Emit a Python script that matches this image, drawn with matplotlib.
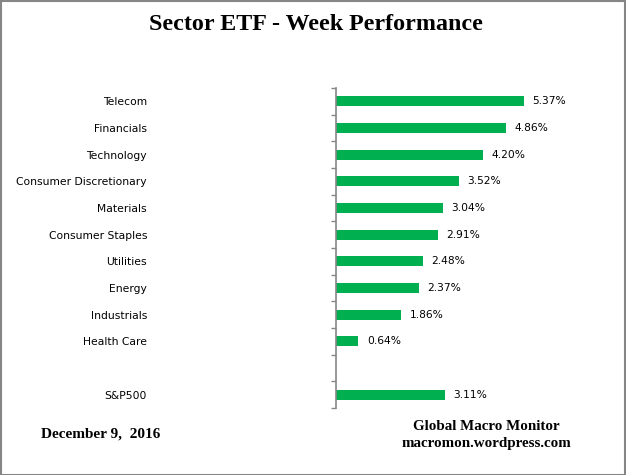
import numpy as np
import matplotlib
matplotlib.use("Agg")
from matplotlib import pyplot as plt
from matplotlib.patches import Rectangle

# Weekly performance, %
sectors = ["Telecom", "Financials", "Technology", "Consumer Discretionary", "Materials",
           "Consumer Staples", "Utilities", "Energy", "Industrials", "Health Care"]
sector_values = [5.37, 4.86, 4.20, 3.52, 3.04, 2.91, 2.48, 2.37, 1.86, 0.64]
benchmark = "S&P500"
benchmark_value = 3.11

title = "Sector ETF - Week Performance"
date_text = "December 9,  2016"
source_lines = ["Global Macro Monitor", "macromon.wordpress.com"]

GREEN = "#00B050"
GREY = "#868686"

# one blank slot between the sectors and the benchmark
labels = sectors + [""] + [benchmark]
values = sector_values + [np.nan] + [benchmark_value]
pos = np.arange(len(labels))

fig = plt.figure(figsize=(6.26, 4.75), dpi=100)
ax = fig.add_axes([336 / 626, 1 - 408 / 475, 0.42, 320 / 475])

ax.barh(pos, values, height=0.37, color=GREEN)
ax.set_ylim(len(labels) - 0.5, -0.5)
ax.set_xlim(0, 7.5)

for p, v in zip(pos, values):
    if np.isnan(v):
        continue
    ax.annotate(f"{v:.2f}%", (v, p), xytext=(6, 0), textcoords="offset points",
                va="center", ha="left", fontsize=7.7, family="DejaVu Sans")

# category labels far left of the axis, ticks on slot boundaries
ax.set_yticks(pos)
ax.set_yticklabels(labels, fontsize=7.75)
ax.tick_params(axis="y", which="major", length=0, pad=136)
ax.set_yticks(np.arange(len(labels) + 1) - 0.5, minor=True)
ax.tick_params(axis="y", which="minor", length=3.6, width=1, color=GREY, direction="out")
ax.set_xticks([])

for side in ["top", "right", "bottom"]:
    ax.spines[side].set_visible(False)
ax.spines["left"].set_color(GREY)
ax.spines["left"].set_linewidth(1.2)

serif = ["Liberation Serif", "DejaVu Serif"]
fig.text(316 / 626, 1 - 25 / 475, title, ha="center", va="center",
         fontsize=17.3, fontweight="bold", family=serif)
fig.text(41 / 626, 1 - 434 / 475, date_text, ha="left", va="center",
         fontsize=11, fontweight="bold", family=serif)
fig.text(486 / 626, 1 - 426 / 475, source_lines[0], ha="center", va="center",
         fontsize=10.8, fontweight="bold", family=serif)
fig.text(486 / 626, 1 - 443 / 475, source_lines[1], ha="center", va="center",
         fontsize=10.8, fontweight="bold", family=serif)

# grey frame around the whole picture
fig.patches.append(Rectangle((0.001, 0.001), 0.997, 0.997, transform=fig.transFigure,
                             fill=False, edgecolor=GREY, linewidth=1.5))

fig.savefig("out.png", dpi=100)
